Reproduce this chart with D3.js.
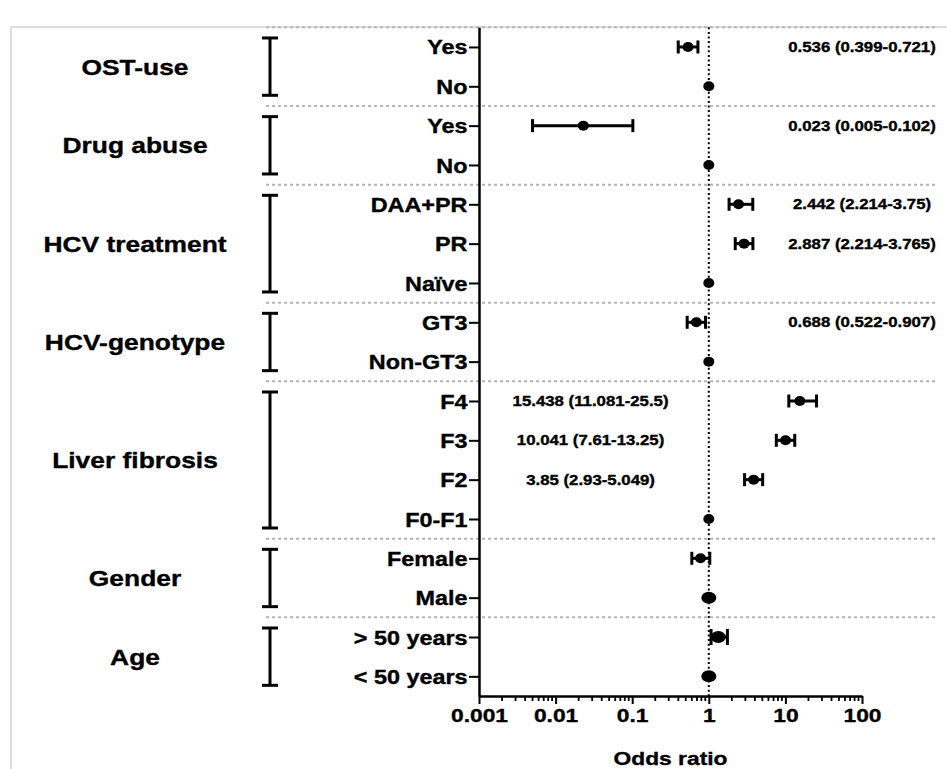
<!DOCTYPE html>
<html>
<head>
<meta charset="utf-8">
<script src="https://cdn.jsdelivr.net/npm/d3@7"></script>
<style>
  html, body { margin: 0; padding: 0; background: #fff; }
  svg { display: block; }
  text { font-family: "Liberation Sans", Arial, sans-serif; font-weight: bold; fill: #000; stroke: #000; stroke-width: 0.35px; }
</style>
</head>
<body>
<svg id="chart" width="947" height="769"></svg>
<script>
// ---------------- data ----------------
const groups = ["OST-use", "Drug abuse", "HCV treatment", "HCV-genotype", "Liver fibrosis", "Gender", "Age"];
const groupSizes = [2, 2, 3, 2, 4, 2, 2];
const rowLabels = ["Yes", "No", "Yes", "No", "DAA+PR", "PR", "Naïve", "GT3", "Non-GT3",
                   "F4", "F3", "F2", "F0-F1", "Female", "Male", "> 50 years", "< 50 years"];
const oddsRatio = [0.536, 1, 0.023, 1, 2.442, 2.887, 1, 0.688, 1, 15.438, 10.041, 3.85, 1, 0.78, 1, 1.33, 1];
const ciLow  = [0.399, null, 0.005, null, 1.84, 2.214, null, 0.522, null, 11.081, 7.61, 2.93, null, 0.60, null, 1.07, null];
const ciHigh = [0.721, null, 0.102, null, 3.75, 3.765, null, 0.907, null, 25.5, 13.25, 5.049, null, 1.03, null, 1.75, null];
const annotations = ["0.536 (0.399-0.721)", "", "0.023 (0.005-0.102)", "", "2.442 (2.214-3.75)",
                     "2.887 (2.214-3.765)", "", "0.688 (0.522-0.907)", "", "15.438 (11.081-25.5)",
                     "10.041 (7.61-13.25)", "3.85 (2.93-5.049)", "", "", "", "", ""];
const annotationSide = ["right", "", "right", "", "right", "right", "", "right", "",
                        "left", "left", "left", "", "", "", "", ""];
const xTicks = [0.001, 0.01, 0.1, 1, 10, 100];
const xTickLabels = ["0.001", "0.01", "0.1", "1", "10", "100"];
const xTitle = "Odds ratio";

// ---------------- layout ----------------
const svg = d3.select("#chart");
const SX = 1.2; // horizontal stretch of the original figure's text
const plotLeft = 479, plotRight = 862, plotTop = 27.3, plotBottom = 696;

const x = d3.scaleLog().domain([0.001, 100]).range([plotLeft, plotRight]);
const y = d3.scalePoint().domain(d3.range(rowLabels.length)).range([plotTop, plotBottom]).padding(0.5);
const step = y.step();

// group start indices
const groupStart = [];
let acc = 0;
groupSizes.forEach(s => { groupStart.push(acc); acc += s; });

// frame
svg.append("path")
  .attr("d", `M11,769 L11,27 L947,27`)
  .attr("fill", "none").attr("stroke", "#d4d4d4").attr("stroke-width", 1.5);

// separators (dashed grey)
const sepY = [y(0) - step / 2].concat(groupStart.slice(1).map(s => y(s) - step / 2));
svg.selectAll("line.sep").data(sepY).join("line")
  .attr("class", "sep")
  .attr("x1", 266).attr("x2", 937)
  .attr("y1", d => d).attr("y2", d => d)
  .attr("stroke", "#b5b5b5").attr("stroke-width", 2)
  .attr("stroke-dasharray", "3,3");

// group labels and brackets
groups.forEach((g, i) => {
  const first = groupStart[i], last = groupStart[i] + groupSizes[i] - 1;
  const top = y(first) - 9, bot = y(last) + 9;
  const mid = (y(first) + y(last)) / 2;
  const bx = 270;
  const br = svg.append("g").attr("stroke", "#000").attr("stroke-width", 3);
  br.append("line").attr("x1", bx).attr("x2", bx).attr("y1", top).attr("y2", bot);
  br.append("line").attr("x1", bx - 8).attr("x2", bx + 8).attr("y1", top).attr("y2", top);
  br.append("line").attr("x1", bx - 8).attr("x2", bx + 8).attr("y1", bot).attr("y2", bot);
  svg.append("text")
    .attr("transform", `translate(135,${mid}) scale(${SX},1)`)
    .attr("text-anchor", "middle").attr("dy", "0.36em")
    .attr("font-size", 22).text(g);
});

// y axis
const yAxis = d3.axisLeft(y).tickSize(10).tickSizeOuter(0).tickFormat(i => rowLabels[i]);
const yg = svg.append("g").attr("transform", `translate(${plotLeft},0)`).call(yAxis);
yg.select(".domain").attr("stroke", "#000").attr("stroke-width", 2.5);
yg.selectAll(".tick line").attr("stroke", "#000").attr("stroke-width", 2);
yg.selectAll(".tick text")
  .attr("x", -11.5 / SX)
  .attr("transform", `scale(${SX},1)`)
  .attr("font-size", 19.5)
  .style("font-family", '"Liberation Sans", Arial, sans-serif')
  .style("font-weight", "bold")
  .attr("dy", "0.36em");

// x axis
const xAxis = d3.axisBottom(x).tickValues(xTicks).tickSize(8).tickSizeOuter(0).tickPadding(5)
  .tickFormat((d, i) => xTickLabels[i]);
const xg = svg.append("g").attr("transform", `translate(0,${plotBottom})`).call(xAxis);
xg.select(".domain").attr("stroke", "#000").attr("stroke-width", 2.5);
xg.selectAll(".tick line").attr("stroke", "#000").attr("stroke-width", 2);
xg.selectAll(".tick text")
  .attr("transform", `scale(${SX},1)`)
  .attr("font-size", 19)
  .style("font-family", '"Liberation Sans", Arial, sans-serif')
  .style("font-weight", "bold");

// minor ticks
const minor = [];
for (let e = -3; e < 2; e++) for (let m = 2; m <= 9; m++) minor.push(m * Math.pow(10, e));
svg.append("g").selectAll("line").data(minor).join("line")
  .attr("x1", d => x(d)).attr("x2", d => x(d))
  .attr("y1", plotBottom).attr("y2", plotBottom + 5)
  .attr("stroke", "#000").attr("stroke-width", 1.8);

// axis title
svg.append("text")
  .attr("transform", `translate(${(plotLeft + plotRight) / 2},765) scale(${SX},1)`)
  .attr("text-anchor", "middle").attr("font-size", 19).text(xTitle);

// reference line at OR = 1
svg.append("line")
  .attr("x1", x(1)).attr("x2", x(1)).attr("y1", plotTop).attr("y2", plotBottom)
  .attr("stroke", "#000").attr("stroke-width", 2).attr("stroke-dasharray", "2,2.6");

// error bars and points
const bigMarkerRows = new Set(["Male", "> 50 years", "< 50 years"]);
const rows = rowLabels.map((l, i) => ({ i, label: l, or: oddsRatio[i], lo: ciLow[i], hi: ciHigh[i] }));
const eb = svg.append("g");
rows.filter(d => d.lo != null).forEach(d => {
  const cy = y(d.i);
  const capH = bigMarkerRows.has(d.label) ? 8 : 6.5;
  const g = eb.append("g").attr("stroke", "#000").attr("stroke-width", 3);
  g.append("line").attr("x1", x(d.lo)).attr("x2", x(d.hi)).attr("y1", cy).attr("y2", cy);
  g.append("line").attr("x1", x(d.lo)).attr("x2", x(d.lo)).attr("y1", cy - capH).attr("y2", cy + capH);
  g.append("line").attr("x1", x(d.hi)).attr("x2", x(d.hi)).attr("y1", cy - capH).attr("y2", cy + capH);
});
eb.selectAll("ellipse").data(rows).join("ellipse")
  .attr("cx", d => x(d.or)).attr("cy", d => y(d.i))
  .attr("rx", d => bigMarkerRows.has(d.label) ? 7.5 : 5.5)
  .attr("ry", d => bigMarkerRows.has(d.label) ? 6 : 5)
  .attr("fill", "#000");

// annotations
svg.append("g").selectAll("text").data(rows.filter(d => annotations[d.i]))
  .join("text")
  .attr("transform", d => `translate(${annotationSide[d.i] === "right" ? x(100) : x(0.0286)},${y(d.i)}) scale(${SX},1)`)
  .attr("text-anchor", "middle").attr("dy", "0.36em")
  .attr("font-size", 14).text(d => annotations[d.i]);
</script>
</body>
</html>
